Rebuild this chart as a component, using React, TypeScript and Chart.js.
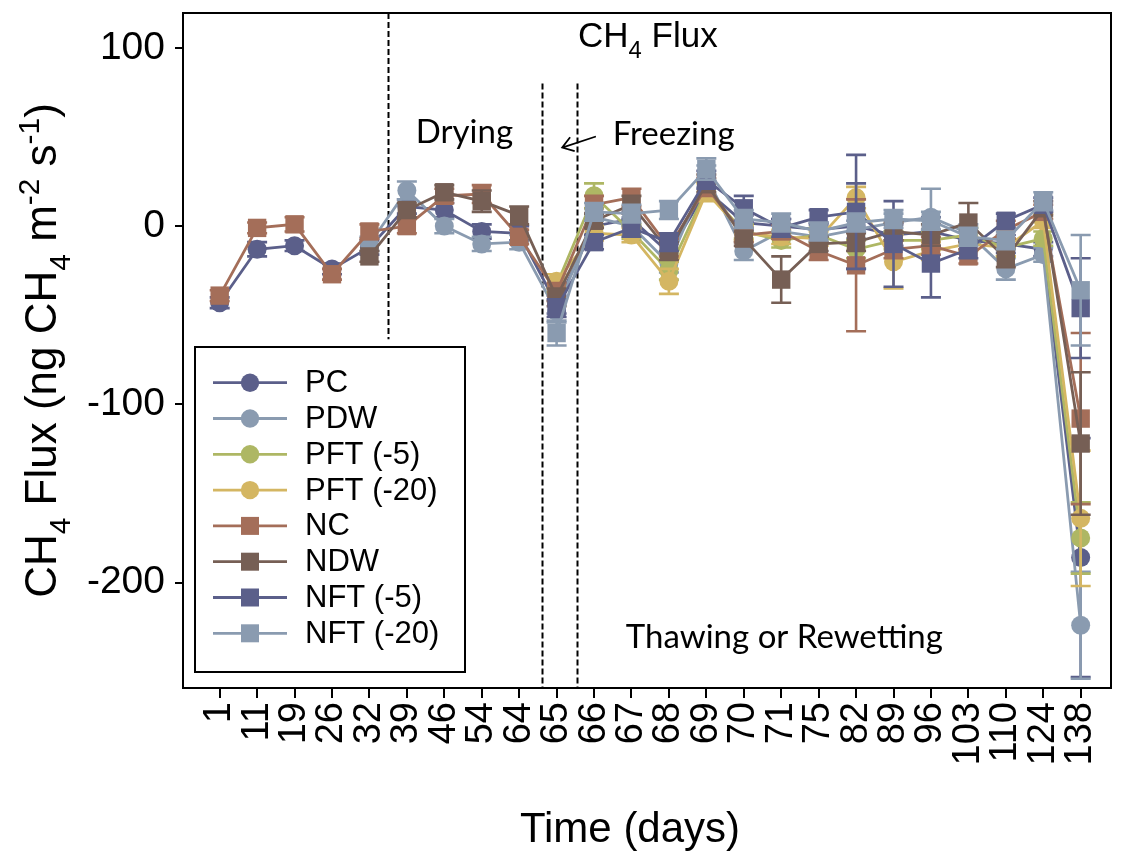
import { useEffect, useRef } from 'react';
import { Chart, registerables } from 'chart.js';

Chart.register(...registerables);

// Sampling days (one category per measurement)
const DAYS = ['1', '11', '19', '26', '32', '39', '46', '54', '64', '65', '66', '67', '68', '69', '70', '71', '75', '82', '89', '96', '103', '110', '124', '138'];
const Y_TICKS = [-200, -100, 0, 100];
const Y_MIN = -259.2;
const Y_MAX = 119.6;

// CH4 flux means (ng CH4 m-2 s-1), null = not measured
const PC = [-43, -13, -11, -24, -12, 11, 9, -3, -4, -44, 0, 4, -15, 20, 2, 0, -2, 0, -5, -3, -8, -10, -13, -186];
const PDW = [null, null, null, null, -10, 20, 0, -10, -9, -48, 5, 0, -21, 28, -14, -3, -6, -2, 2, 5, -4, -24, -16, -224];
const PFT5 = [null, null, null, null, null, null, null, null, null, -33, 17, -3, -25, 20, -3, -8, -5, -13, -8, -8, -5, -12, -7, -175];
const PFT20 = [null, null, null, null, null, null, null, null, null, -31, -4, -5, -31, 19, -4, -6, -7, 16, -20, -14, -10, -12, 3, -164];
const NC = [-39, -1, 1, -27, -3, 0, 17, 18, -6, -37, 12, 16, -12, 22, -5, -3, -14, -22, -13, -11, -17, -2, 8, -108];
const NDW = [null, null, null, null, -17, 9, 19, 14, 6, -40, 3, 12, -14, 24, -7, -30, -10, -9, -3, -5, 2, -18, 10, -122];
const NFT5 = [null, null, null, null, null, null, null, null, null, -46, -9, -1, -9, 26, 10, -1, 5, 8, -10, -21, -13, 3, 12, -46];
const NFT20 = [null, null, null, null, null, null, null, null, null, -60, 8, 7, 9, 32, 4, 2, -3, 2, 4, 3, -6, -8, 14, -36];

// Standard errors
const PC_ERR = [3, 4, 3, 3, 4, 4, 4, 4, 4, 5, 5, 4, 5, 5, 4, 4, 4, 24, 6, 8, 5, 5, 4, 67];
const PDW_ERR = [0, 0, 0, 0, 4, 5, 4, 4, 4, 6, 5, 5, 5, 6, 5, 4, 4, 5, 5, 16, 5, 6, 4, 30];
const PFT5_ERR = [0, 0, 0, 0, 0, 0, 0, 0, 0, 4, 7, 4, 5, 5, 4, 4, 4, 5, 5, 5, 4, 5, 4, 20];
const PFT20_ERR = [0, 0, 0, 0, 0, 0, 0, 0, 0, 4, 4, 4, 7, 5, 4, 4, 4, 6, 15, 5, 4, 5, 4, 38];
const NC_ERR = [3, 3, 4, 3, 4, 4, 4, 5, 4, 5, 5, 5, 5, 5, 4, 4, 5, 37, 5, 5, 4, 5, 4, 48];
const NDW_ERR = [0, 0, 0, 0, 3, 4, 4, 6, 5, 5, 4, 5, 5, 5, 4, 13, 4, 5, 5, 6, 11, 5, 4, 40];
const NFT5_ERR = [0, 0, 0, 0, 0, 0, 0, 0, 0, 5, 4, 5, 5, 5, 7, 5, 4, 32, 24, 19, 5, 4, 4, 28];
const NFT20_ERR = [0, 0, 0, 0, 0, 0, 0, 0, 0, 7, 5, 5, 5, 6, 5, 5, 5, 5, 5, 5, 5, 5, 5, 31];

const SERIES_NAMES = ['PC', 'PDW', 'PFT (-5)', 'PFT (-20)', 'NC', 'NDW', 'NFT (-5)', 'NFT (-20)'];
const SERIES_VALUES = [PC, PDW, PFT5, PFT20, NC, NDW, NFT5, NFT20];
const SERIES_ERRORS = [PC_ERR, PDW_ERR, PFT5_ERR, PFT20_ERR, NC_ERR, NDW_ERR, NFT5_ERR, NFT20_ERR];
const SERIES_COLORS = ['#5B5F8A', '#8A9BB0', '#AEB764', '#D4B662', '#A46E59', '#765F55', '#5B5F8A', '#8A9BB0'];
const SERIES_SHAPES = ['circle', 'circle', 'circle', 'circle', 'rect', 'rect', 'rect', 'rect'];

// Treatment phase boundaries (x in category index units, y in flux units)
const PHASE_LINES = [
  { x: 4.5, top: Y_MAX, bottom: -63.5 },
  { x: 8.62, top: 80, bottom: Y_MIN },
  { x: 9.54, top: 80, bottom: Y_MIN },
];
const PHASE_LABELS = [
  { text: 'Drying', x: 5.24, y: 46.4 },
  { text: 'Freezing', x: 10.5, y: 45.3 },
  { text: 'Thawing or Rewetting', x: 10.85, y: -237 },
];
const FREEZE_ARROW = { from: { x: 10.05, y: 50.3 }, to: { x: 9.15, y: 44.1 } };

const SANS = '"Liberation Sans", Arial, sans-serif';
const LABEL_FONT = 'Lato, "Open Sans", sans-serif';

type Run = { t: string; mode?: 'sub' | 'sup' };

const Y_TITLE: Run[] = [
  { t: 'CH' }, { t: '4', mode: 'sub' }, { t: ' Flux (ng CH' }, { t: '4', mode: 'sub' },
  { t: ' m' }, { t: '-2', mode: 'sup' }, { t: ' s' }, { t: '-1', mode: 'sup' }, { t: ')' },
];
const CHART_TITLE: Run[] = [{ t: 'CH' }, { t: '4', mode: 'sub' }, { t: ' Flux' }];

function runSize(r: Run, size: number) {
  return r.mode ? size * 0.68 : size;
}

function richWidth(ctx: CanvasRenderingContext2D, runs: Run[], size: number) {
  let w = 0;
  for (const r of runs) {
    ctx.font = `${runSize(r, size)}px ${SANS}`;
    w += ctx.measureText(r.t).width;
  }
  return w;
}

function drawRich(ctx: CanvasRenderingContext2D, runs: Run[], x: number, y: number, size: number, center: boolean) {
  let cx = center ? x - richWidth(ctx, runs, size) / 2 : x;
  ctx.textAlign = 'left';
  ctx.textBaseline = 'alphabetic';
  for (const r of runs) {
    const s = runSize(r, size);
    ctx.font = `${s}px ${SANS}`;
    const dy = r.mode === 'sub' ? size * 0.32 : r.mode === 'sup' ? -size * 0.38 : 0;
    ctx.fillText(r.t, cx, y + dy);
    cx += ctx.measureText(r.t).width;
  }
}

const errorBarPlugin = {
  id: 'errorBars',
  beforeDatasetDraw(chart: any, args: any) {
    const ds = chart.data.datasets[args.index];
    const errs: number[] = ds.errors;
    if (!errs) return;
    const { ctx } = chart;
    const yScale = chart.scales.y;
    ctx.save();
    ctx.strokeStyle = ds.borderColor;
    ctx.lineWidth = 2.6;
    args.meta.data.forEach((pt: any, i: number) => {
      const v = ds.data[i].y;
      const e = errs[i];
      if (v == null || !e) return;
      const x = pt.x;
      const yHi = yScale.getPixelForValue(v + e);
      const yLo = yScale.getPixelForValue(v - e);
      ctx.beginPath();
      ctx.moveTo(x, yHi);
      ctx.lineTo(x, yLo);
      ctx.moveTo(x - 10, yHi);
      ctx.lineTo(x + 10, yHi);
      ctx.moveTo(x - 10, yLo);
      ctx.lineTo(x + 10, yLo);
      ctx.stroke();
    });
    ctx.restore();
  },
};

const annotationPlugin = {
  id: 'phaseAnnotations',
  beforeDatasetsDraw(chart: any) {
    const { ctx, scales } = chart;
    const xs = scales.x;
    const ys = scales.y;
    ctx.save();
    ctx.strokeStyle = '#000';
    ctx.lineWidth = 2;
    ctx.setLineDash([6, 3]);
    for (const l of PHASE_LINES) {
      const px = Math.round(xs.getPixelForValue(l.x)) + 0.5;
      ctx.beginPath();
      ctx.moveTo(px, ys.getPixelForValue(l.top));
      ctx.lineTo(px, ys.getPixelForValue(l.bottom));
      ctx.stroke();
    }
    ctx.setLineDash([]);

    ctx.fillStyle = '#000';
    ctx.font = `33px ${LABEL_FONT}`;
    ctx.textAlign = 'left';
    ctx.textBaseline = 'alphabetic';
    for (const t of PHASE_LABELS) {
      ctx.fillText(t.text, xs.getPixelForValue(t.x), ys.getPixelForValue(t.y));
    }

    // arrow pointing into the freezing window
    const ax0 = xs.getPixelForValue(FREEZE_ARROW.from.x);
    const ay0 = ys.getPixelForValue(FREEZE_ARROW.from.y);
    const ax1 = xs.getPixelForValue(FREEZE_ARROW.to.x);
    const ay1 = ys.getPixelForValue(FREEZE_ARROW.to.y);
    const ang = Math.atan2(ay1 - ay0, ax1 - ax0);
    ctx.lineWidth = 1.8;
    ctx.beginPath();
    ctx.moveTo(ax0, ay0);
    ctx.lineTo(ax1, ay1);
    ctx.moveTo(ax1 - 13 * Math.cos(ang - 0.6), ay1 - 13 * Math.sin(ang - 0.6));
    ctx.lineTo(ax1, ay1);
    ctx.lineTo(ax1 - 13 * Math.cos(ang + 0.6), ay1 - 13 * Math.sin(ang + 0.6));
    ctx.stroke();

    drawRich(ctx, CHART_TITLE, 578, 47, 35, false);
    ctx.restore();
  },
};

const framePlugin = {
  id: 'frameLegendTitles',
  afterDraw(chart: any) {
    const { ctx, chartArea: a } = chart;
    ctx.save();
    ctx.strokeStyle = '#000';
    ctx.lineWidth = 2;
    ctx.strokeRect(a.left, a.top, a.right - a.left, a.bottom - a.top);

    // legend box
    const lx = 195;
    const ly = 347;
    ctx.fillStyle = '#fff';
    ctx.fillRect(lx, ly, 270, 325);
    ctx.strokeRect(lx, ly, 270, 325);
    SERIES_NAMES.forEach((name, i) => {
      const y = 382.7 + i * 35.8;
      const c = SERIES_COLORS[i];
      ctx.strokeStyle = c;
      ctx.lineWidth = 2.8;
      ctx.beginPath();
      ctx.moveTo(213, y);
      ctx.lineTo(287, y);
      ctx.stroke();
      ctx.fillStyle = c;
      if (SERIES_SHAPES[i] === 'circle') {
        ctx.beginPath();
        ctx.arc(250, y, 9.2, 0, Math.PI * 2);
        ctx.fill();
      } else {
        ctx.fillRect(241, y - 9, 18, 18);
      }
      ctx.fillStyle = '#000';
      ctx.font = `31px ${SANS}`;
      ctx.textAlign = 'left';
      ctx.textBaseline = 'middle';
      ctx.fillText(name, 305, y + 1);
    });

    // axis titles
    ctx.fillStyle = '#000';
    ctx.font = `42px ${SANS}`;
    ctx.textAlign = 'center';
    ctx.textBaseline = 'alphabetic';
    ctx.fillText('Time (days)', 630, 842);

    ctx.translate(56, (a.top + a.bottom) / 2);
    ctx.rotate(-Math.PI / 2);
    drawRich(ctx, Y_TITLE, 0, 0, 44, true);
    ctx.restore();
  },
};

export default function App() {
  const canvasRef = useRef<HTMLCanvasElement | null>(null);

  useEffect(() => {
    const canvas = canvasRef.current;
    if (!canvas) return;
    const chart = new Chart(canvas, {
      type: 'line',
      data: {
        datasets: SERIES_NAMES.map((name, i) => ({
          label: name,
          data: SERIES_VALUES[i].map((v, k) => ({ x: k, y: v })),
          errors: SERIES_ERRORS[i],
          borderColor: SERIES_COLORS[i],
          backgroundColor: SERIES_COLORS[i],
          pointBackgroundColor: SERIES_COLORS[i],
          pointBorderColor: SERIES_COLORS[i],
          pointBorderWidth: 0,
          pointStyle: SERIES_SHAPES[i],
          pointRadius: SERIES_SHAPES[i] === 'circle' ? 9.5 : 13,
          borderWidth: 2.8,
          tension: 0,
          spanGaps: false,
          order: SERIES_NAMES.length - i,
        })) as any,
      },
      options: {
        responsive: false,
        animation: false,
        devicePixelRatio: 1,
        layout: { padding: { left: 0, top: 10, right: 4, bottom: 0 } },
        plugins: { legend: { display: false }, tooltip: { enabled: false } },
        scales: {
          x: {
            type: 'linear',
            min: -0.98,
            max: 23.81,
            afterBuildTicks: (s: any) => {
              s.ticks = DAYS.map((_, i) => ({ value: i }));
            },
            afterFit: (s: any) => {
              s.height = 166;
              s.paddingLeft = 0;
              s.paddingRight = 0;
            },
            ticks: {
              autoSkip: false,
              minRotation: 90,
              maxRotation: 90,
              padding: 4,
              color: '#000',
              font: { family: SANS, size: 38 },
              callback: (v: any) => DAYS[Math.round(v)],
            },
            grid: { drawOnChartArea: false, drawTicks: true, tickLength: 10, color: '#000', lineWidth: 2 },
            border: { display: false },
          },
          y: {
            min: Y_MIN,
            max: Y_MAX,
            afterBuildTicks: (s: any) => {
              s.ticks = Y_TICKS.map((v) => ({ value: v }));
            },
            afterFit: (s: any) => {
              s.width = 183;
              s.paddingTop = 0;
              s.paddingBottom = 0;
            },
            ticks: {
              padding: 10,
              color: '#000',
              font: { family: SANS, size: 39 },
            },
            grid: { drawOnChartArea: false, drawTicks: true, tickLength: 8, color: '#000', lineWidth: 2 },
            border: { display: false },
          },
        },
      },
      plugins: [errorBarPlugin, annotationPlugin, framePlugin],
    });
    return () => chart.destroy();
  }, []);

  return (
    <div style={{ position: 'absolute', left: 0, top: 0, width: 1124, height: 854, background: '#fff' }}>
      <canvas ref={canvasRef} width={1124} height={854} />
    </div>
  );
}
